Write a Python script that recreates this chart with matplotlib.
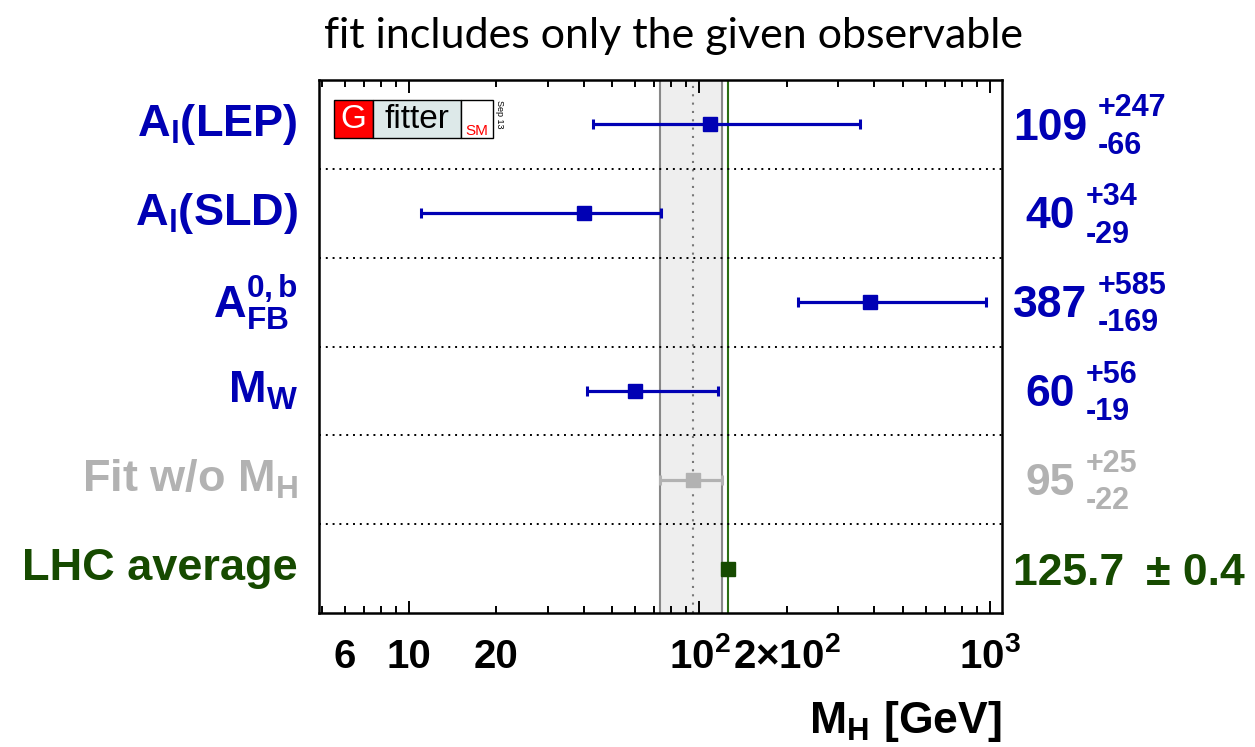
import numpy as np
import matplotlib
matplotlib.use("Agg")
import matplotlib.pyplot as plt
from matplotlib import transforms
from matplotlib.patches import Rectangle

# ---- data ----
labels = [r"A$_\mathregular{l}$(LEP)", r"A$_\mathregular{l}$(SLD)", r"A$^\mathregular{0,b}_\mathregular{FB}$",
          r"M$_\mathregular{W}$", r"Fit w/o M$_\mathregular{H}$", "LHC average"]
central = [109, 40, 387, 60, 95, 125.7]
err_up = [247, 34, 585, 56, 25, 0.4]
err_dn = [66, 29, 169, 19, 22, 0.4]
val_txt = ["109", "40", "387", "60", "95", "125.7"]
up_txt = ["+247", "+34", "+585", "+56", "+25", None]
dn_txt = ["-66", "-29", "-169", "-19", "-22", None]
tick_vals = [6, 10, 20, 100, 200, 1000]
tick_txt = ["6", "10", "20", r"$\mathrm{10^2}$", r"$\mathrm{2{\times}10^2}$", r"$\mathrm{10^3}$"]

BLUE = "#0000b4"
GRAY = "#b2b2b2"
DGREEN = "#164a00"
colors = [BLUE, BLUE, BLUE, BLUE, GRAY, DGREEN]

plt.rcParams["mathtext.fontset"] = "custom"
plt.rcParams["mathtext.rm"] = "Liberation Sans:bold"
plt.rcParams["mathtext.it"] = "Liberation Sans:bold"
plt.rcParams["mathtext.bf"] = "Liberation Sans:bold"
plt.rcParams["mathtext.sf"] = "Liberation Sans:bold"

W, H = 1255, 747
fig = plt.figure(figsize=(W / 100, H / 100), dpi=100)
ax = fig.add_axes([319 / W, 1 - 613 / H, (1002 - 319) / W, (613 - 80) / H])

n = len(labels)
ax.set_xscale("log")
ax.set_xlim(4.9, 1100)
ax.set_ylim(n - 0.5, -0.5)

# fit band (fit w/o M_H) and LHC line
lo = central[4] - err_dn[4]
hi = central[4] + err_up[4]
ax.axvspan(lo, hi, color="#eeeeee", zorder=0)
ax.axvline(lo, color="#888888", lw=1.5, zorder=1)
ax.axvline(hi, color="#888888", lw=1.5, zorder=1)
ax.axvline(central[4], color="#777777", lw=1.5, ls=(0, (1, 3)), zorder=1)
ax.axvline(central[5], color="#2a6e12", lw=1.5, zorder=2)

for k in range(n - 1):
    ax.axhline(k + 0.5, color="black", lw=1.4, ls=(0, (1, 2.5)), zorder=3)

for i in range(n):
    ax.errorbar(central[i], i, xerr=[[err_dn[i]], [err_up[i]]], fmt="s",
                color=colors[i], ms=10, lw=2.3, capsize=3.5, capthick=2.2,
                zorder=5)

ax.set_yticks([])
ax.set_xticks([10, 100, 1000])
minor = [m * d for d in [1, 10, 100, 1000] for m in range(2, 10) if 4.9 < m * d < 1100]
ax.set_xticks(minor, minor=True)
ax.set_xticklabels([])
ax.set_xticklabels([], minor=True)
ax.tick_params(which="both", direction="in", top=True, bottom=True, width=1.4)
ax.tick_params(which="major", length=9)
ax.tick_params(which="minor", length=5)
for s in ax.spines.values():
    s.set_linewidth(1.8)

xb = transforms.blended_transform_factory(ax.transData, ax.transAxes)
for v, t in zip(tick_vals, tick_txt):
    ax.text(v, -0.103, t, transform=xb, ha="center", va="baseline",
            fontsize=29, fontweight="bold", family="Liberation Sans")

ax.text(1.0, -0.225, r"$\mathrm{M_H\ [GeV]}$", transform=ax.transAxes,
        ha="right", va="baseline", fontsize=32)

fig.text(674 / W, 1 - 48 / H, "fit includes only the given observable",
         ha="center", va="baseline", fontsize=31, family="Lato")

# left labels
yb = transforms.blended_transform_factory(fig.transFigure, ax.transData)
for i in range(n):
    fig.text(298 / W, i, labels[i], transform=yb, ha="right", va="center",
             fontsize=32.5, fontweight="bold", family="Liberation Sans",
             color=colors[i])

# right values
renderer = fig.canvas.get_renderer()
for i in range(n):
    if up_txt[i] is None:
        fig.text(1013 / W, i + 0.19, val_txt[i] + "  ", transform=yb,
                 ha="left", va="baseline", fontsize=32, fontweight="bold",
                 family="Liberation Sans", color=colors[i])
        fig.text(1245 / W, i + 0.19, "± 0.4", transform=yb,
                 ha="right", va="baseline", fontsize=32, fontweight="bold",
                 family="Liberation Sans", color=colors[i])
        continue
    t = fig.text(1050 / W, i + 0.17, val_txt[i], transform=yb, ha="center",
                 va="baseline", fontsize=32, fontweight="bold",
                 family="Liberation Sans", color=colors[i])
    bb = t.get_window_extent(renderer)
    xr = (bb.x1 + 11) / W
    fig.text(xr, i - 0.09, up_txt[i], transform=yb, ha="left", va="baseline",
             fontsize=22, fontweight="bold", family="Liberation Sans",
             color=colors[i])
    fig.text(xr, i + 0.33, dn_txt[i], transform=yb, ha="left", va="baseline",
             fontsize=22, fontweight="bold", family="Liberation Sans",
             color=colors[i])

# Gfitter logo
def afx(px):
    return (px - 319) / (1002 - 319)

def afy(py):
    return (613 - py) / (613 - 80)

y0, y1 = afy(138), afy(100)
for xa, xb2, fc in [(334, 373, "#ff0000"), (373, 461, "#dde9e9"), (461, 493, "white")]:
    ax.add_patch(Rectangle((afx(xa), y0), afx(xb2) - afx(xa), y1 - y0,
                           transform=ax.transAxes, facecolor=fc,
                           edgecolor="black", lw=1.0, zorder=6))
ax.text(afx(353.5), afy(119), "G", transform=ax.transAxes, ha="center",
        va="center", fontsize=24, color="white", family="Liberation Sans", zorder=7)
ax.text(afx(417), afy(120), "fitter", transform=ax.transAxes, ha="center",
        va="center", fontsize=24, color="black", family="Liberation Sans", zorder=7)
ax.text(afx(477), afy(135), "SM", transform=ax.transAxes, ha="center",
        va="baseline", fontsize=11, color="#ff0000", family="Liberation Sans", zorder=7)
ax.text(afx(500), afy(100), "Sep 13", transform=ax.transAxes, ha="center",
        va="top", fontsize=6.5, rotation=-90, color="black",
        family="Liberation Sans", zorder=7)

fig.savefig("out.png", dpi=100)
